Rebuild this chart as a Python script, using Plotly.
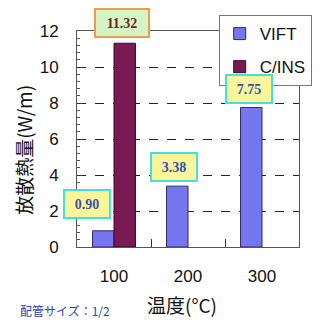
import plotly.graph_objects as go

# Heat dissipation by operating temperature (pipe size 1/2)
temps = ["100", "200", "300"]
vift = [0.90, 3.38, 7.75]
cins = [11.32, None, None]
y_ticks = [0, 2, 4, 6, 8, 10, 12]

fig = go.Figure()
fig.add_trace(go.Bar(
    x=temps, y=vift, name="VIFT", legendgroup="a",
    marker=dict(color="#7676f0", line=dict(color="#2b2b66", width=1)),
))
fig.add_trace(go.Bar(
    x=temps, y=cins, name="C/INS", legendgroup="b",
    marker=dict(color="#7a1a52", line=dict(color="#3a0a22", width=1)),
))

# value boxes above bars (x given as category index)
val_font = dict(family="Liberation Serif", size=14)
boxes = [
    # (category, value, xshift, yshift, text colour, fill, border)
    ("100", vift[0], -27.5, 12, "#3553a8", "#fbf59a", "#49dede"),
    ("100", cins[0], 8, 5, "#6e2626", "#d6f3c6", "#f09a4a"),
    ("200", vift[1], -14.5, 4.5, "#3553a8", "#fbf59a", "#49dede"),
    ("300", vift[2], -13.5, 4, "#3553a8", "#fbf59a", "#49dede"),
]
for cat, v, xs, ys, tc, bg, bc in boxes:
    fig.add_annotation(
        x=temps.index(cat), y=v, xref="x", yref="y", text=f"<b>{v:.2f}</b>",
        showarrow=False, xanchor="center", yanchor="bottom",
        xshift=xs, yshift=ys, font=dict(val_font, color=tc),
        bgcolor=bg, bordercolor=bc, borderwidth=2, borderpad=3,
        width=38 if v < 10 else 46, height=20,
    )

title_font = dict(family="Noto Sans CJK JP", size=19, color="#111")
fig.add_annotation(
    text="温度(°C)", xref="paper", yref="paper",
    x=(188 - 77) / 235, y=(247.5 - 305) / 216.5,
    showarrow=False, xanchor="center", yanchor="middle", font=title_font,
)
fig.add_annotation(
    text="放散熱量(W/m)", xref="paper", yref="paper",
    x=(21 - 77) / 235, y=(247.5 - 150) / 216.5, textangle=-90,
    showarrow=False, xanchor="center", yanchor="middle", font=title_font,
)
fig.add_annotation(
    text="配管サイズ：1/2", xref="paper", yref="paper",
    x=(15 - 77) / 235, y=(247.5 - 311) / 216.5,
    showarrow=False, xanchor="left", yanchor="middle",
    font=dict(family="Noto Sans CJK JP", size=12, color="#2a44b8"),
)

tick_font = dict(family="Liberation Sans", size=17, color="#111")
fig.update_layout(
    width=322, height=331,
    margin=dict(l=77, r=10, t=31, b=83.5),
    paper_bgcolor="white", plot_bgcolor="white",
    barmode="group", bargap=0.42, bargroupgap=0,
    showlegend=True,
    legend=dict(
        x=(227 - 77) / 235, y=(247.5 - 15) / 216.5,
        xanchor="left", yanchor="top",
        bgcolor="white", bordercolor="#777", borderwidth=1,
        font=dict(family="Liberation Sans", size=17, color="#111"),
        traceorder="grouped", tracegroupgap=8,
        entrywidth=50,
    ),
    xaxis=dict(
        type="category", categoryorder="array", categoryarray=temps,
        range=[-0.5, 2.5], autorange=False,
        showline=True, linecolor="#555", linewidth=1, mirror=True,
        ticks="inside", tickson="boundaries", ticklen=8, tickcolor="#333",
        ticklabelstandoff=14, tickfont=tick_font,
        showgrid=False, zeroline=False,
    ),
    yaxis=dict(
        range=[0, 12], tickvals=y_ticks,
        showline=True, linecolor="#555", linewidth=1, mirror=True,
        ticks="inside", ticklen=6, tickcolor="#333",
        ticklabelstandoff=14, tickfont=tick_font,
        showgrid=True, gridcolor="#222", gridwidth=1, griddash="dash",
        zeroline=False,
        minor=dict(dtick=0.4, ticks="inside", ticklen=3,
                   tickcolor="#555", showgrid=False),
    ),
)

fig.write_html("out.html")
